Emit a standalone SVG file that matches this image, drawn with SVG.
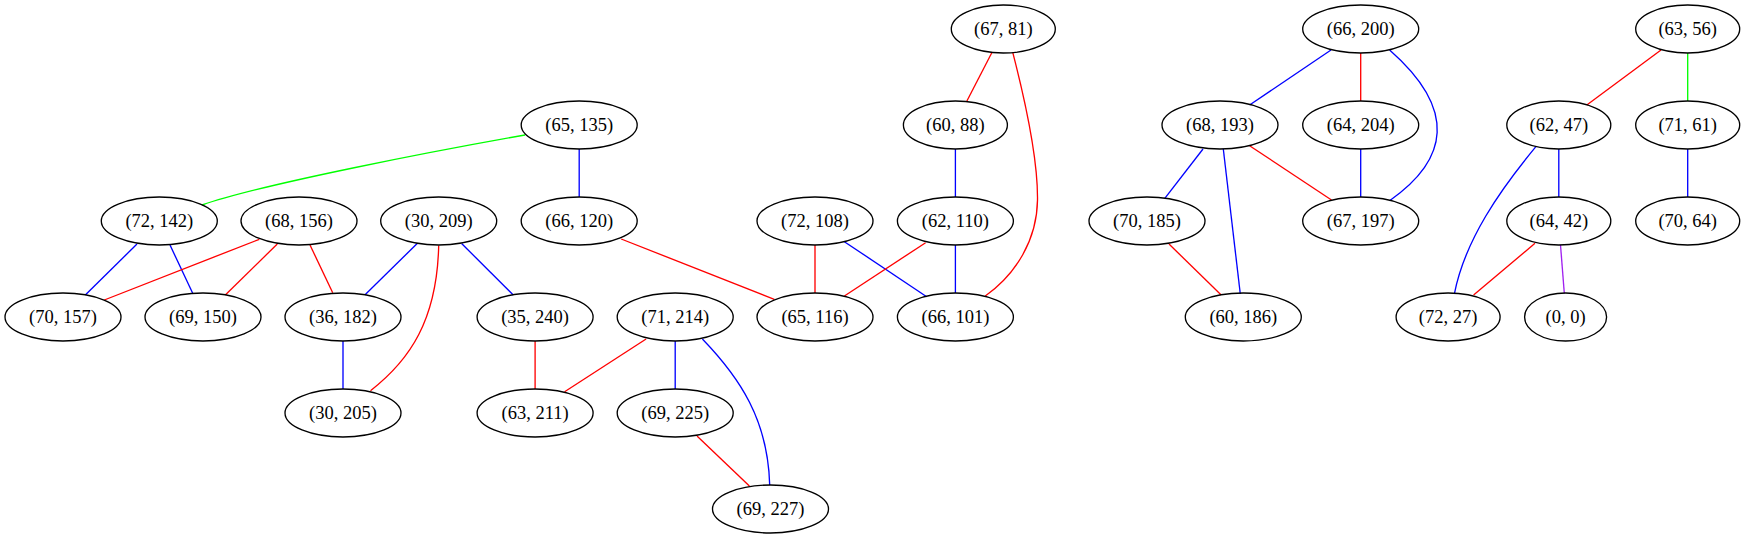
<svg xmlns="http://www.w3.org/2000/svg" width="1745" height="539" viewBox="0 0 1745 539">
<style>
.n ellipse{fill:none;stroke:#000;stroke-width:1.33}
.n text{font-family:"Liberation Serif","Times New Roman",serif;font-size:18.5px;text-anchor:middle;fill:#000}
#edges path{fill:none;stroke-width:1.33}
.r{stroke:#ff0000}.b{stroke:#0000ff}.g{stroke:#00ff00}.p{stroke:#a020f0}
</style>
<rect width="1745" height="539" fill="#fff"/>
<g id="edges">
<path class="g" d="M525,135 C440,150 262,184 202,205"/>
<path class="b" d="M579.2,149 L579.2,197"/>
<path class="b" d="M137,244 L85.3,295"/>
<path class="b" d="M170,245 L192.7,293.3"/>
<path class="r" d="M259.3,239.3 L104.3,300"/>
<path class="r" d="M277.3,244 L225.3,295"/>
<path class="r" d="M310,245 L332.7,292.7"/>
<path class="b" d="M417.2,243.5 L364.8,295"/>
<path class="b" d="M461.6,243.5 L513.3,295"/>
<path class="r" d="M438.7,245.5 C437,320 410,360 370.5,390.7"/>
<path class="b" d="M343,341 L343,389"/>
<path class="r" d="M621.2,239 L774.3,299.3"/>
<path class="r" d="M535.1,341 L535.1,389"/>
<path class="r" d="M646.1,339 L564.6,391.7"/>
<path class="b" d="M675.2,341 L675.2,389"/>
<path class="b" d="M702.4,339 C740,378 768,420 769.7,485"/>
<path class="r" d="M697,436 L749.4,486"/>
<path class="r" d="M991.8,52.7 L966.9,101"/>
<path class="r" d="M1012.8,52.7 C1025,100 1038,160 1037.5,200 C1037,240 1016,274 985.3,296"/>
<path class="b" d="M955.4,149 L955.4,197"/>
<path class="r" d="M815,245 L815,293"/>
<path class="b" d="M844.4,241.7 L926.7,296.7"/>
<path class="r" d="M925.6,242.7 L844.4,296"/>
<path class="b" d="M955.4,245 L955.4,293"/>
<path class="b" d="M1331,50 L1249.6,105"/>
<path class="r" d="M1360.7,53 L1360.7,101"/>
<path class="b" d="M1389.6,50 C1458,110 1448,160 1389.6,200.7"/>
<path class="b" d="M1203,149 L1164.8,198.3"/>
<path class="b" d="M1223.3,149 L1240.3,294"/>
<path class="r" d="M1249.6,145.7 L1331.5,200"/>
<path class="b" d="M1360.7,149 L1360.7,197"/>
<path class="r" d="M1169,244 L1221.2,295"/>
<path class="r" d="M1661,50 L1586.8,105"/>
<path class="g" d="M1687.7,53 L1687.7,101"/>
<path class="b" d="M1558.8,149 L1558.8,197"/>
<path class="b" d="M1535.9,146.7 C1500,190 1465,240 1454.5,293.3"/>
<path class="b" d="M1687.7,149 L1687.7,197"/>
<path class="r" d="M1535,243.3 L1473.6,295"/>
<path class="p" d="M1560.5,245 L1564.3,293.3"/>
</g>
<g id="n1" class="n"><ellipse cx="1003.3" cy="29" rx="52" ry="24"/><text x="1003.3" y="35">(67, 81)</text></g>
<g id="n2" class="n"><ellipse cx="1360.7" cy="29" rx="58" ry="24"/><text x="1360.7" y="35">(66, 200)</text></g>
<g id="n3" class="n"><ellipse cx="1687.7" cy="29" rx="52" ry="24"/><text x="1687.7" y="35">(63, 56)</text></g>
<g id="n4" class="n"><ellipse cx="579.2" cy="125" rx="58" ry="24"/><text x="579.2" y="131">(65, 135)</text></g>
<g id="n5" class="n"><ellipse cx="955.4" cy="125" rx="52" ry="24"/><text x="955.4" y="131">(60, 88)</text></g>
<g id="n6" class="n"><ellipse cx="1220" cy="125" rx="58" ry="24"/><text x="1220" y="131">(68, 193)</text></g>
<g id="n7" class="n"><ellipse cx="1360.7" cy="125" rx="58" ry="24"/><text x="1360.7" y="131">(64, 204)</text></g>
<g id="n8" class="n"><ellipse cx="1558.8" cy="125" rx="52" ry="24"/><text x="1558.8" y="131">(62, 47)</text></g>
<g id="n9" class="n"><ellipse cx="1687.7" cy="125" rx="52" ry="24"/><text x="1687.7" y="131">(71, 61)</text></g>
<g id="n10" class="n"><ellipse cx="159.3" cy="221" rx="58" ry="24"/><text x="159.3" y="227">(72, 142)</text></g>
<g id="n11" class="n"><ellipse cx="299" cy="221" rx="58" ry="24"/><text x="299" y="227">(68, 156)</text></g>
<g id="n12" class="n"><ellipse cx="438.7" cy="221" rx="58" ry="24"/><text x="438.7" y="227">(30, 209)</text></g>
<g id="n13" class="n"><ellipse cx="579.2" cy="221" rx="58" ry="24"/><text x="579.2" y="227">(66, 120)</text></g>
<g id="n14" class="n"><ellipse cx="815" cy="221" rx="58" ry="24"/><text x="815" y="227">(72, 108)</text></g>
<g id="n15" class="n"><ellipse cx="955.4" cy="221" rx="58" ry="24"/><text x="955.4" y="227">(62, 110)</text></g>
<g id="n16" class="n"><ellipse cx="1147" cy="221" rx="58" ry="24"/><text x="1147" y="227">(70, 185)</text></g>
<g id="n17" class="n"><ellipse cx="1360.7" cy="221" rx="58" ry="24"/><text x="1360.7" y="227">(67, 197)</text></g>
<g id="n18" class="n"><ellipse cx="1558.8" cy="221" rx="52" ry="24"/><text x="1558.8" y="227">(64, 42)</text></g>
<g id="n19" class="n"><ellipse cx="1687.7" cy="221" rx="52" ry="24"/><text x="1687.7" y="227">(70, 64)</text></g>
<g id="n20" class="n"><ellipse cx="63" cy="317" rx="58" ry="24"/><text x="63" y="323">(70, 157)</text></g>
<g id="n21" class="n"><ellipse cx="203" cy="317" rx="58" ry="24"/><text x="203" y="323">(69, 150)</text></g>
<g id="n22" class="n"><ellipse cx="343" cy="317" rx="58" ry="24"/><text x="343" y="323">(36, 182)</text></g>
<g id="n23" class="n"><ellipse cx="535.1" cy="317" rx="58" ry="24"/><text x="535.1" y="323">(35, 240)</text></g>
<g id="n24" class="n"><ellipse cx="675.2" cy="317" rx="58" ry="24"/><text x="675.2" y="323">(71, 214)</text></g>
<g id="n25" class="n"><ellipse cx="815" cy="317" rx="58" ry="24"/><text x="815" y="323">(65, 116)</text></g>
<g id="n26" class="n"><ellipse cx="955.4" cy="317" rx="58" ry="24"/><text x="955.4" y="323">(66, 101)</text></g>
<g id="n27" class="n"><ellipse cx="1243.3" cy="317" rx="58" ry="24"/><text x="1243.3" y="323">(60, 186)</text></g>
<g id="n28" class="n"><ellipse cx="1448.1" cy="317" rx="52" ry="24"/><text x="1448.1" y="323">(72, 27)</text></g>
<g id="n29" class="n"><ellipse cx="1565.6" cy="317" rx="41" ry="24"/><text x="1565.6" y="323">(0, 0)</text></g>
<g id="n30" class="n"><ellipse cx="343" cy="413" rx="58" ry="24"/><text x="343" y="419">(30, 205)</text></g>
<g id="n31" class="n"><ellipse cx="535.1" cy="413" rx="58" ry="24"/><text x="535.1" y="419">(63, 211)</text></g>
<g id="n32" class="n"><ellipse cx="675.2" cy="413" rx="58" ry="24"/><text x="675.2" y="419">(69, 225)</text></g>
<g id="n33" class="n"><ellipse cx="770.5" cy="509" rx="58" ry="24"/><text x="770.5" y="515">(69, 227)</text></g>
</svg>
